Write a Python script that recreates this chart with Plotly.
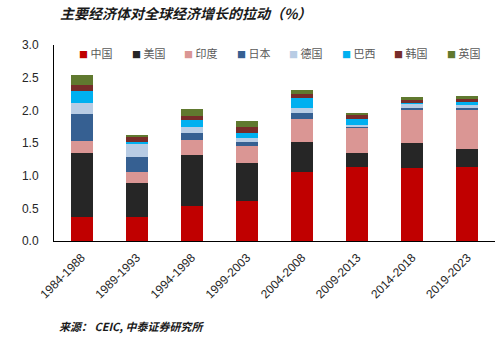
import plotly.graph_objects as go

categories = ["1984-1988", "1989-1993", "1994-1998", "1999-2003",
              "2004-2008", "2009-2013", "2014-2018", "2019-2023"]
series_names = ["中国", "美国", "印度", "日本", "德国", "巴西", "韩国", "英国"]
china   = [0.36, 0.37, 0.54, 0.61, 1.05, 1.14, 1.11, 1.13]
usa     = [0.99, 0.52, 0.77, 0.59, 0.46, 0.20, 0.39, 0.28]
india   = [0.18, 0.17, 0.24, 0.25, 0.36, 0.40, 0.50, 0.60]
japan   = [0.41, 0.23, 0.10, 0.06, 0.09, 0.02, 0.04, 0.02]
germany = [0.17, 0.20, 0.10, 0.07, 0.08, 0.02, 0.065, 0.05]
brazil  = [0.19, 0.02, 0.10, 0.07, 0.15, 0.095, 0.005, 0.06]
korea   = [0.085, 0.08, 0.065, 0.09, 0.065, 0.06, 0.045, 0.03]
uk      = [0.155, 0.04, 0.105, 0.095, 0.06, 0.01, 0.045, 0.045]
series_values = [china, usa, india, japan, germany, brazil, korea, uk]
colors = ["#C00000", "#262626", "#DA9694", "#366092",
          "#B8CCE4", "#00B0F0", "#772C2A", "#60792F"]
y_ticks = [0.0, 0.5, 1.0, 1.5, 2.0, 2.5, 3.0]

W, H = 504, 340
ML, MR, MT, MB = 54, 9, 45, 99
PW = W - ML - MR

fig = go.Figure()
for name, vals, col in zip(series_names, series_values, colors):
    fig.add_trace(go.Bar(x=categories, y=vals, name=name, marker_color=col,
                         marker_line_width=0, showlegend=False))

# legend drawn as text entries
annotations = []
for i, (name, col) in enumerate(zip(series_names, colors)):
    px = 77 + i * 52.5
    annotations.append(dict(
        xref="paper", yref="paper", x=(px - ML) / PW, y=(H - MB - 53) / (H - MT - MB) ,
        xanchor="left", yanchor="middle", showarrow=False,
        text=f"<span style='color:{col};font-size:9px'>■</span> {name}",
        font=dict(family="Noto Sans CJK SC", size=11, color="#595959")))
# fix legend y: pixel 53 from top
for a in annotations:
    a["y"] = 1 - (53 - MT) / (H - MT - MB)

annotations.append(dict(
    xref="paper", yref="paper", x=(58 - ML) / PW, y=1 - (13 - MT) / (H - MT - MB),
    xanchor="left", yanchor="middle", showarrow=False,
    text="<b><i>主要经济体对全球经济增长的拉动（%）</i></b>",
    font=dict(family="Noto Sans CJK SC", size=14, color="#1a1a1a")))
annotations.append(dict(
    xref="paper", yref="paper", x=(57 - ML) / PW, y=1 - (326 - MT) / (H - MT - MB),
    xanchor="left", yanchor="middle", showarrow=False,
    text="<b><i>来源： CEIC, 中泰证券研究所</i></b>",
    font=dict(family="Noto Sans CJK SC", size=11, color="#1a1a1a")))

fig.update_layout(
    width=W, height=H, barmode="stack", bargap=0.6,
    margin=dict(l=ML, r=MR, t=MT, b=MB),
    paper_bgcolor="white", plot_bgcolor="white",
    font=dict(family="Liberation Sans, Arial", size=12, color="#262626"),
    annotations=annotations,
    xaxis=dict(type="category", tickangle=-45, showline=True, linecolor="black",
               linewidth=1, showgrid=False, ticks="", ticklabelstandoff=4,
               range=[-0.5, 7.5], tickfont=dict(size=12)),
    yaxis=dict(range=[0, 3], tickvals=y_ticks, tickformat=".1f", showline=True,
               linecolor="black", linewidth=1, showgrid=False, ticks="",
               zeroline=False, ticklabelstandoff=12, tickfont=dict(size=12)),
)
fig.write_html("out.html")
